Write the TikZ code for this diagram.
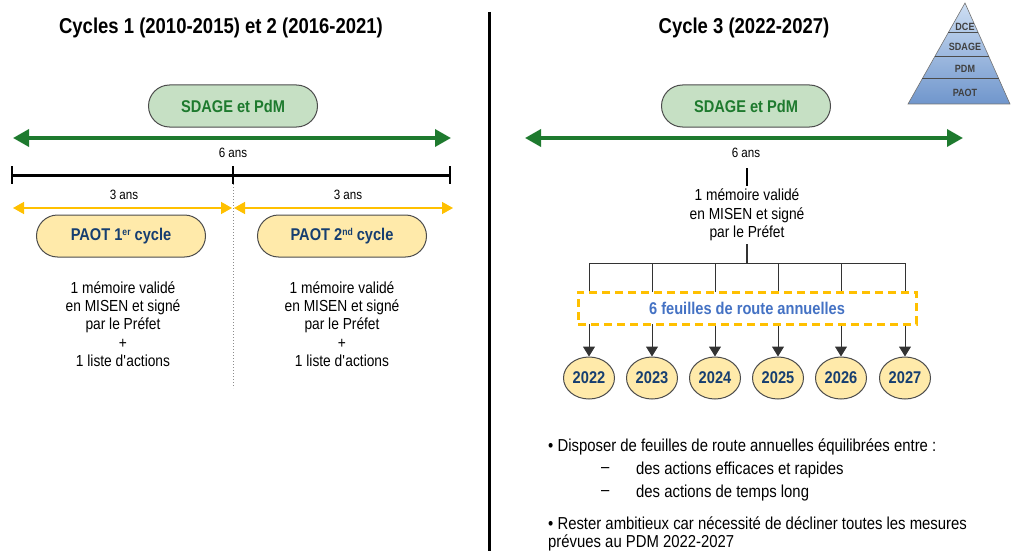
\documentclass[tikz,border=0pt]{standalone}
\usepackage{fontspec}
\setmainfont{Liberation Sans}[FakeStretch=0.86]
\usepackage{xcolor}
\usetikzlibrary{arrows.meta,positioning,shapes.geometric,calc}
\definecolor{sdagefill}{RGB}{198,224,196}
\definecolor{sdagegreen}{RGB}{30,122,46}
\definecolor{paotfill}{RGB}{255,234,170}
\definecolor{paotblue}{RGB}{22,62,112}
\definecolor{gold}{RGB}{255,192,0}
\definecolor{routeblue}{RGB}{68,114,196}
\definecolor{pyrtop}{RGB}{205,222,243}
\definecolor{pyrbot}{RGB}{112,150,204}

\begin{document}
\begin{tikzpicture}[x=1pt,y=-1pt,
  pill/.style={rectangle, rounded corners=21pt, draw=black!70, line width=1pt, minimum width=169pt, minimum height=42pt, font=\fontsize{17}{18}\selectfont\bfseries},
  sdage/.style={pill, fill=sdagefill, text=sdagegreen},
  paot/.style={pill, fill=paotfill, text=paotblue},
  year/.style={ellipse, draw=black!70, line width=1pt, fill=paotfill, text=paotblue, minimum width=51pt, minimum height=42pt, inner sep=0pt, font=\fontsize{17}{18}\selectfont\bfseries},
  title/.style={font=\fontsize{21.5}{24}\selectfont\bfseries},
  small/.style={font=\fontsize{13.5}{15}\selectfont},
  memo/.style={align=center, font=\fontsize{16}{18.3}\selectfont},
  bullet/.style={anchor=west, align=left, inner sep=0pt, font=\fontsize{17.3}{18.5}\selectfont},
  greenarrow/.style={{Triangle[length=16pt,width=17pt]}-{Triangle[length=16pt,width=17pt]}, line width=3.5pt, draw=sdagegreen},
  goldarrow/.style={{Triangle[length=11pt,width=12pt]}-{Triangle[length=11pt,width=12pt]}, line width=1.5pt, draw=gold},
  tree/.style={line width=1pt, draw=black!80},
  treearrow/.style={tree, -{Triangle[length=10pt,width=12pt]}},
  pyrlabel/.style={font=\fontsize{10.5}{11}\selectfont\bfseries, text=black!75}
]
\useasboundingbox (0,0) rectangle (1013,551);

\node[title] (titleA) at (221,28) {Cycles 1 (2010-2015) et 2 (2016-2021)};
\node[title] (titleB) at (744,28) {Cycle 3 (2022-2027)};

\coordinate (divtop) at (489,12);
\coordinate (divbot) at (489,551);
\draw[line width=3pt] (divtop) -- (divbot);

% cycles 1 et 2
\node[sdage] (sdageA) at (233,106) {SDAGE et PdM};
\coordinate (gA1) at (13,138);
\coordinate (gA2) at (451,138);
\draw[greenarrow] (gA1) -- (gA2);
\node[small] (sixA) at (233,153) {6 ans};

\coordinate (tA1) at (12,175);
\coordinate (tA2) at (233,175);
\coordinate (tA3) at (450,175);
\draw[line width=3pt] (tA1) -- (tA3);
\foreach \t in {tA1,tA2,tA3}
  \draw[line width=2pt] (\t) ++(0,-9) -- ++(0,18);
\coordinate (dotend) at (233,388);
\draw[dotted, line width=1pt, black!45] ($(tA2)+(0,9)$) -- (dotend);

\node[small] (troisA) at (124,195) {3 ans};
\node[small] (troisB) at (348,195) {3 ans};
\coordinate (yA1) at (13,208);
\coordinate (yA2) at (232,208);
\coordinate (yA3) at (234,208);
\coordinate (yA4) at (453,208);
\draw[goldarrow] (yA1) -- (yA2);
\draw[goldarrow] (yA3) -- (yA4);

\node[paot] (paotA) at (121,236) {PAOT 1{\fontsize{10}{10}\selectfont\raisebox{5pt}{er}} cycle};
\node[paot] (paotB) at (342,236) {PAOT 2{\fontsize{10}{10}\selectfont\raisebox{5pt}{nd}} cycle};

\node[memo] (memoA) at (123,324) {1 mémoire validé\\en MISEN et signé\\par le Préfet\\+\\1 liste d\textquotesingle actions};
\node[memo] (memoB) at (342,324) {1 mémoire validé\\en MISEN et signé\\par le Préfet\\+\\1 liste d\textquotesingle actions};

% cycle 3
\node[sdage] (sdageB) at (746,106) {SDAGE et PdM};
\coordinate (gB1) at (525,138);
\coordinate (gB2) at (963,138);
\draw[greenarrow] (gB1) -- (gB2);
\node[small] (sixB) at (746,153) {6 ans};
\coordinate (stemtop) at (747,168);
\node[memo] (memoC) at (747,215) {1 mémoire validé\\en MISEN et signé\\par le Préfet};
\draw[line width=2pt] (stemtop) -- (memoC.north);
\coordinate (branch) at (747,263);
\draw[tree, line width=2pt] (memoC.south) -- (branch);

\foreach \x/\y in {589/2022,652/2023,715/2024,778/2025,841/2026,905/2027}
  \node[year] (y\y) at (\x,378) {\y};
\draw[tree] (branch -| y2022) -- (branch -| y2027);
\foreach \y in {2022,2023,2024,2025,2026,2027}
  \draw[treearrow] (branch -| y\y) -- (y\y);

\node[draw=gold, dashed, line width=3pt, dash pattern=on 8pt off 5pt, fill=white, minimum width=338pt, minimum height=32pt, text=routeblue, font=\fontsize{17}{18}\selectfont\bfseries] (feuilles) at (747,308) {6 feuilles de route annuelles};

\node[bullet] (b1) at (548,447) {• Disposer de feuilles de route annuelles équilibrées entre :};
\node[bullet] (d1) at (601,470) {–};
\node[bullet] (l1) at (636,470) {des actions efficaces et rapides};
\node[bullet] (d2) at (601,493) {–};
\node[bullet] (l2) at (636,493) {des actions de temps long};
\node[bullet] (b2) at (548,534) {• Rester ambitieux car nécessité de décliner toutes les mesures\\prévues au PDM 2022-2027};

% pyramide
\coordinate (apex) at (965,3);
\coordinate (bl) at (908,104);
\coordinate (brr) at (1010,104);
\shade[top color=pyrtop, bottom color=pyrbot, draw=black!55, line width=0.6pt] (apex) -- (bl) -- (brr) -- cycle;
\foreach \h in {33,57,79}
  \draw[black!70, line width=1pt] ($(apex)!{(\h-3)/101}!(bl)$) -- ($(apex)!{(\h-3)/101}!(brr)$);
\node[pyrlabel] (dce) at (965,27) {DCE};
\node[pyrlabel] (psdage) at (965,47) {SDAGE};
\node[pyrlabel] (pdm) at (965,69) {PDM};
\node[pyrlabel] (ppaot) at (965,93) {PAOT};
\end{tikzpicture}
\end{document}
